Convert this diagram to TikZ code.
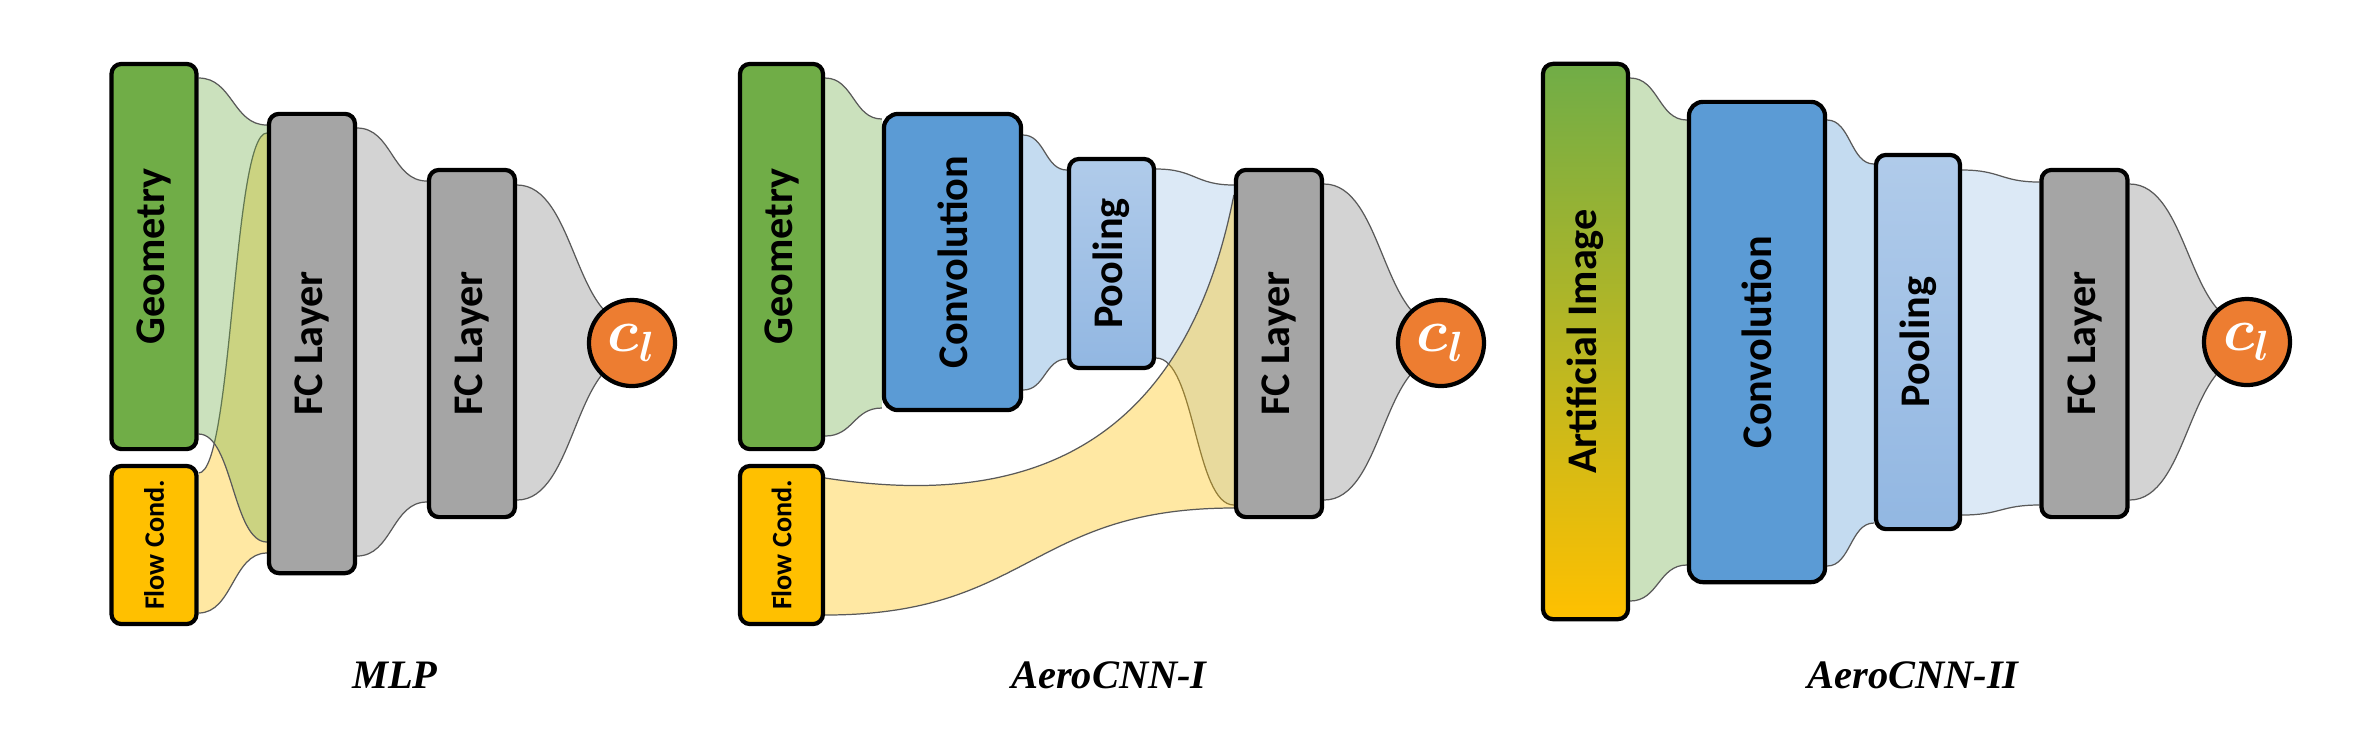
\documentclass[tikz,border=0pt]{standalone}
\usepackage{fontspec}
\setmainfont{Carlito}
\newfontfamily\capfont{Liberation Serif}
\usepackage{graphicx}
\usetikzlibrary{backgrounds,calc}

\definecolor{grn}{HTML}{70AD47}
\definecolor{yel}{HTML}{FFC000}
\definecolor{gbox}{HTML}{A5A5A5}
\definecolor{gry}{HTML}{858585}
\definecolor{blu}{HTML}{5B9BD5}
\definecolor{pbl}{HTML}{9DC3E6}
\definecolor{pltop}{HTML}{B0CBEA}
\definecolor{plbot}{HTML}{92B7E2}
\definecolor{orn}{HTML}{ED7D31}

\begin{document}
\begin{tikzpicture}[x=0.01cm, y=-0.01cm,
	box/.style={draw, line width=1.2pt, rounded corners=1mm, inner sep=0pt,
		font=\fontsize{12}{14}\selectfont\bfseries},
	coef/.style={circle, draw, line width=1.2pt, fill=orn, text=white,
		minimum size=0.86cm, inner sep=0pt, font=\fontsize{17}{17}\selectfont\boldmath},
	rim/.style={draw=black!65, line width=0.35pt},
	netname/.style={font=\capfont\fontsize{11.5}{13}\selectfont\bfseries\itshape}]

	\useasboundingbox (0,0) rectangle (2362,753);

	% MLP
	\node[box, fill=grn, minimum width=0.85cm, minimum height=3.85cm] (geoA) at (154,256.5) {\rotatebox{90}{Geometry}};
	\node[box, fill=yel, minimum width=0.85cm, minimum height=1.58cm, font=\fontsize{8}{9}\selectfont\bfseries] (flowA) at (154,545) {\rotatebox{90}{Flow Cond.}};
	\node[box, fill=gbox, minimum width=0.86cm, minimum height=4.59cm] (fcA1) at (312,343.5) {\rotatebox{90}{FC Layer}};
	\node[box, fill=gbox, minimum width=0.86cm, minimum height=3.47cm] (fcA2) at (472,343.5) {\rotatebox{90}{FC Layer}};
	\node[coef] (clA) at (632,343) {$c_l$};
	\node[netname] (lblA) at (395,675) {MLP};

	% AeroCNN-I
	\node[box, fill=grn, minimum width=0.83cm, minimum height=3.85cm] (geoB) at (781.5,256.5) {\rotatebox{90}{Geometry}};
	\node[box, fill=yel, minimum width=0.83cm, minimum height=1.58cm, font=\fontsize{8}{9}\selectfont\bfseries] (flowB) at (781.5,545) {\rotatebox{90}{Flow Cond.}};
	\node[box, fill=blu, rounded corners=1.4mm, minimum width=1.37cm, minimum height=2.96cm] (convB) at (952.5,262) {\rotatebox{90}{Convolution}};
	\node[box, top color=pltop, bottom color=plbot, minimum width=0.85cm, minimum height=2.09cm] (poolB) at (1111.5,263.5) {\rotatebox{90}{Pooling}};
	\node[box, fill=gbox, minimum width=0.86cm, minimum height=3.47cm] (fcB) at (1279,343.5) {\rotatebox{90}{FC Layer}};
	\node[coef] (clB) at (1441,343) {$c_l$};
	\node[netname] (lblB) at (1109,675) {AeroCNN-I};

	% AeroCNN-II
	\node[box, top color=grn, bottom color=yel, minimum width=0.85cm, minimum height=5.55cm] (imgC) at (1585.5,341.5) {\rotatebox{90}{Artificial Image}};
	\node[box, fill=blu, rounded corners=1.4mm, minimum width=1.36cm, minimum height=4.80cm] (convC) at (1757,342) {\rotatebox{90}{Convolution}};
	\node[box, top color=pltop, bottom color=plbot, minimum width=0.84cm, minimum height=3.74cm] (poolC) at (1918,342) {\rotatebox{90}{Pooling}};
	\node[box, fill=gbox, minimum width=0.86cm, minimum height=3.47cm] (fcC) at (2084.5,343.5) {\rotatebox{90}{FC Layer}};
	\node[coef] (clC) at (2247,342) {$c_l$};
	\node[netname] (lblC) at (1913,675) {AeroCNN-II};

	\begin{scope}[on background layer]
	\foreach \a/\ta/\ba/\b/\tb/\bb/\c in {
	flowA.east/473/613/fcA1.west/133/553/yel,
	geoA.east/78/434/fcA1.west/125/542/grn,
	fcA1.east/128/556/fcA2.west/181/502/gry,
	fcA2.east/185/500/clA.center/324/358/gry,
	%
	geoB.east/78/436/convB.west/119/408/grn,
	convB.east/135/390/poolB.west/170/359/blu,
	poolB.east/169/358/fcB.west/185/505/pbl,
	fcB.east/184/500/clB.center/326/358/gry,
	%
	imgC.east/78/601/convC.west/120/565/grn,
	convC.east/120/566/poolC.west/164/523/blu,
	poolC.east/170/515/fcC.west/182/505/pbl,
	fcC.east/184/500/clC.center/324/358/gry}
	{
		\fill[\c, fill opacity=.36] let \p1=(\a |- 0,\ta), \p2=(\b |- 0,\tb), \p3=(\a |- 0,\ba), \p4=(\b |- 0,\bb) in
			(\p1) .. controls ({(\x1+\x2)/2},\y1) and ({(\x1+\x2)/2},\y2) .. (\p2)
			-- (\p4) .. controls ({(\x1+\x2)/2},\y4) and ({(\x1+\x2)/2},\y3) .. (\p3) -- cycle;
		\draw[rim] let \p1=(\a |- 0,\ta), \p2=(\b |- 0,\tb), \p3=(\a |- 0,\ba), \p4=(\b |- 0,\bb) in
			(\p1) .. controls ({(\x1+\x2)/2},\y1) and ({(\x1+\x2)/2},\y2) .. (\p2)
			(\p3) .. controls ({(\x1+\x2)/2},\y3) and ({(\x1+\x2)/2},\y4) .. (\p4);
	};
	% flow conditions join the FC layer directly
	\fill[yel, fill opacity=.36] (flowB.east |- 0,478) .. controls (1000,505) and (1180,470) .. (fcB.west |- 0,195)
		-- (fcB.west |- 0,508) .. controls (1030,508) and (1030,615) .. (flowB.east |- 0,615) -- cycle;
	\draw[rim] (flowB.east |- 0,478) .. controls (1000,505) and (1180,470) .. (fcB.west |- 0,195)
		(flowB.east |- 0,615) .. controls (1030,615) and (1030,508) .. (fcB.west |- 0,508);
	\end{scope}
\end{tikzpicture}
\end{document}
